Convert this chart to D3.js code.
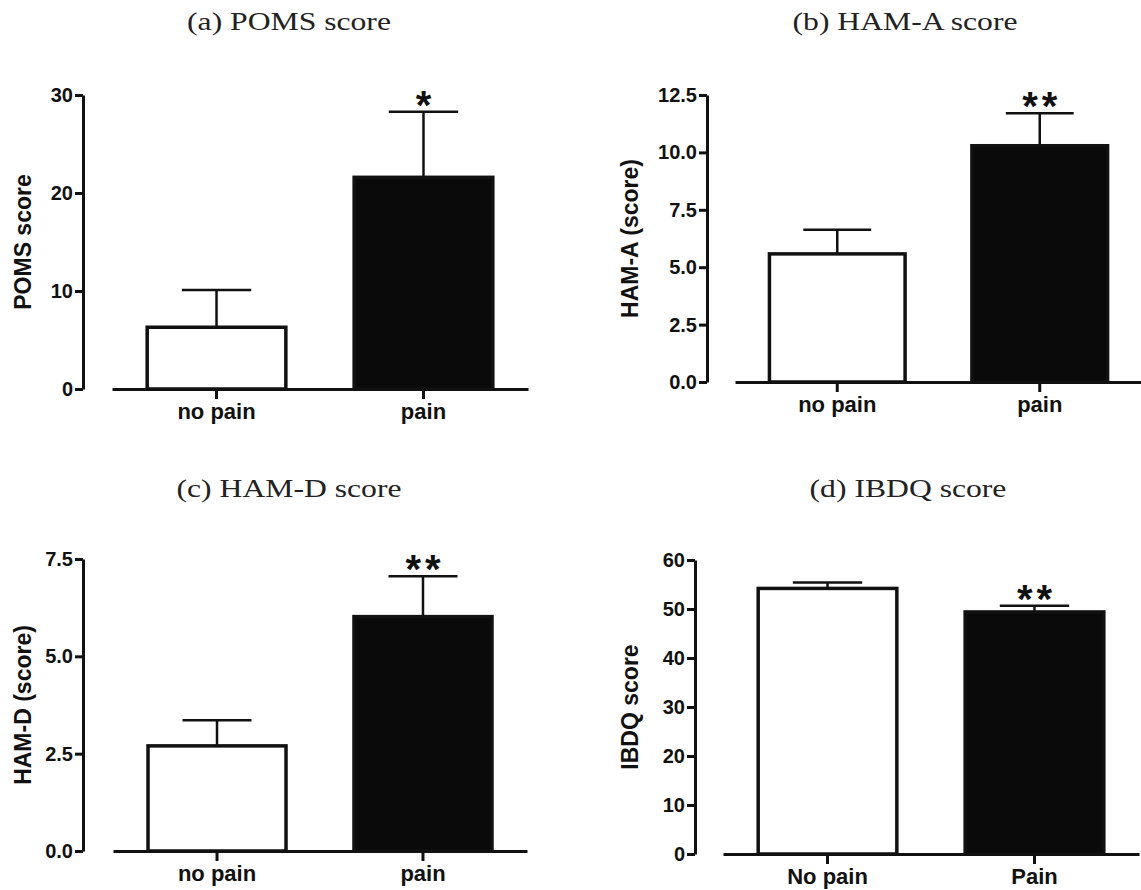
<!DOCTYPE html>
<html>
<head>
<meta charset="utf-8">
<script src="https://cdn.jsdelivr.net/npm/d3@7"></script>
<style>
  body { margin: 0; background: #fff; }
  svg { display: block; }
  .axis path, .axis line { stroke: #111; stroke-width: 3; }
  .axis text { font-family: "Liberation Sans", Arial, sans-serif; font-weight: bold; font-size: 20px; fill: #111; }
  .ylab { font-family: "Liberation Sans", Arial, sans-serif; font-weight: bold; font-size: 23px; fill: #111; }
  .xcat text { font-size: 22px; }
  .title { font-family: "Liberation Serif", "Times New Roman", serif; font-size: 26px; fill: #222; }
  .star { font-family: "Liberation Sans", Arial, sans-serif; font-weight: bold; font-size: 40px; fill: #111; }
</style>
</head>
<body>
<div id="fig"></div>
<script>
// values (mean and upper SEM)
var catsLower = ["no pain", "pain"];
var catsUpper = ["No pain", "Pain"];

var pomsMean = [6.3, 21.6];
var pomsSem = [3.8, 6.7];
var pomsTicks = [0, 10, 20, 30];
var pomsStars = ["", "*"];

var hamaMean = [5.58, 10.29];
var hamaSem = [1.05, 1.41];
var hamaTicks = [0, 2.5, 5, 7.5, 10, 12.5];
var hamaStars = ["", "**"];

var hamdMean = [2.70, 6.02];
var hamdSem = [0.66, 1.04];
var hamdTicks = [0, 2.5, 5, 7.5];
var hamdStars = ["", "**"];

var ibdqMean = [54.2, 49.4];
var ibdqSem = [1.2, 1.26];
var ibdqTicks = [0, 10, 20, 30, 40, 50, 60];
var ibdqStars = ["", "**"];

var titles = ["(a) POMS score", "(b) HAM-A score", "(c) HAM-D score", "(d) IBDQ score"];
var yLabels = ["POMS score", "HAM-A (score)", "HAM-D (score)", "IBDQ score"];

var panels = [
  { cats: catsLower, mean: pomsMean, sem: pomsSem, ticks: pomsTicks, stars: pomsStars, fmt: "d" },
  { cats: catsLower, mean: hamaMean, sem: hamaSem, ticks: hamaTicks, stars: hamaStars, fmt: ".1f" },
  { cats: catsLower, mean: hamdMean, sem: hamdSem, ticks: hamdTicks, stars: hamdStars, fmt: ".1f" },
  { cats: catsUpper, mean: ibdqMean, sem: ibdqSem, ticks: ibdqTicks, stars: ibdqStars, fmt: "d" }
];

// where each panel sits on the page
var layout = [
  { ax: 83,  top: 95,  zero: 389, x0: 112, x1: 528,  tx: 289, ty: 30,  lx: 23 },
  { ax: 707, top: 95,  zero: 382, x0: 735, x1: 1142, tx: 905, ty: 30,  lx: 630 },
  { ax: 83,  top: 559, zero: 851, x0: 113, x1: 527,  tx: 289, ty: 497, lx: 23 },
  { ax: 695, top: 560, zero: 854, x0: 723, x1: 1139, tx: 908, ty: 497, lx: 630 }
];

var W = 1141, H = 890;
var svg = d3.select("#fig").append("svg").attr("width", W).attr("height", H);
svg.append("rect").attr("width", W).attr("height", H).attr("fill", "#fff");

var titleScale = null;

panels.forEach(function(p, i) {
  var L = layout[i];
  var g = svg.append("g");

  var y = d3.scaleLinear()
    .domain([0, d3.max(p.ticks)])
    .range([L.zero, L.top]);

  var x = d3.scaleBand()
    .domain(p.cats)
    .range([L.x0, L.x1])
    .paddingInner(0.33)
    .paddingOuter(0.17);

  // y axis
  g.append("g")
    .attr("class", "axis")
    .attr("transform", "translate(" + L.ax + ",0)")
    .call(d3.axisLeft(y).tickValues(p.ticks).tickFormat(d3.format(p.fmt))
      .tickSize(8).tickSizeOuter(0).tickPadding(2));

  // bars
  g.selectAll("rect.bar")
    .data(p.mean).enter().append("rect")
    .attr("class", "bar")
    .attr("x", function(d, j) { return x(p.cats[j]); })
    .attr("width", x.bandwidth())
    .attr("y", function(d) { return y(d); })
    .attr("height", function(d) { return y(0) - y(d); })
    .attr("fill", function(d, j) { return j == 0 ? "#fff" : "#0a0a0a"; })
    .attr("stroke", "#111")
    .attr("stroke-width", 3.5);

  // error bars, upper only
  p.mean.forEach(function(m, j) {
    var cx = x(p.cats[j]) + x.bandwidth() / 2;
    var yt = y(m + p.sem[j]);
    var half = x.bandwidth() / 4;
    g.append("line")
      .attr("x1", cx).attr("x2", cx)
      .attr("y1", y(m)).attr("y2", yt)
      .attr("stroke", "#111").attr("stroke-width", 2.5);
    g.append("line")
      .attr("x1", cx - half).attr("x2", cx + half)
      .attr("y1", yt).attr("y2", yt)
      .attr("stroke", "#111").attr("stroke-width", 2.5);
    if (p.stars[j]) {
      var n = p.stars[j].length;
      g.append("text")
        .attr("class", "star")
        .attr("text-anchor", "middle")
        .attr("x", cx + (n > 1 ? 2 : 0))
        .attr("y", yt + 7)
        .style("letter-spacing", n > 1 ? "4px" : "0px")
        .text(p.stars[j]);
    }
  });

  // x axis (baseline)
  g.append("g")
    .attr("class", "axis xcat")
    .attr("transform", "translate(0," + L.zero + ")")
    .call(d3.axisBottom(x).tickSize(10).tickSizeOuter(0).tickPadding(4));

  // y label
  g.append("text")
    .attr("class", "ylab")
    .attr("text-anchor", "middle")
    .attr("dominant-baseline", "central")
    .attr("transform", "translate(" + L.lx + "," + ((L.zero + L.top) / 2) + ") rotate(-90)")
    .text(yLabels[i]);

  // panel title
  var t = svg.append("text")
    .attr("class", "title")
    .attr("text-anchor", "middle")
    .text(titles[i]);
  if (titleScale === null) {
    titleScale = 204 / t.node().getComputedTextLength();
  }
  t.attr("transform", "translate(" + L.tx + "," + L.ty + ") scale(" + titleScale + ",1)");
});
</script>
</body>
</html>
